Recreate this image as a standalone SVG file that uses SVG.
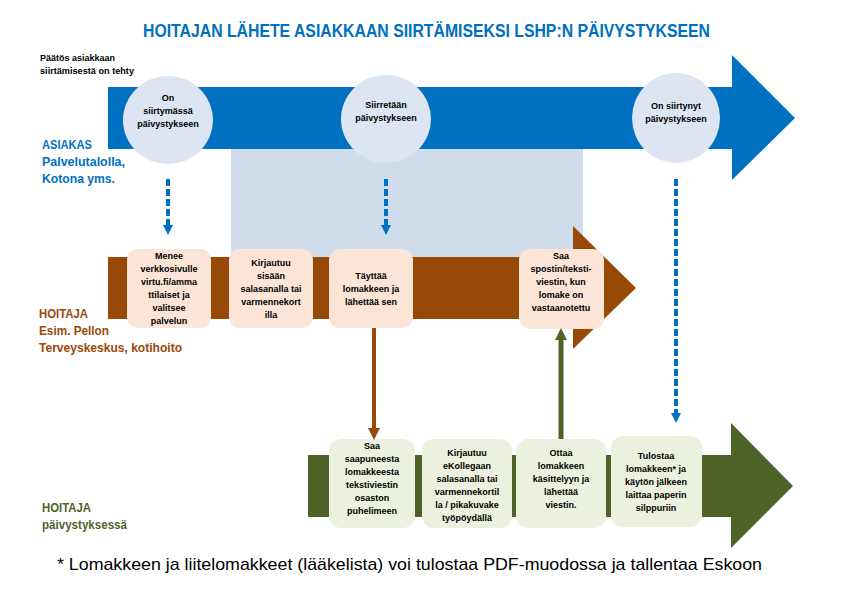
<svg xmlns="http://www.w3.org/2000/svg" width="842" height="595" viewBox="0 0 842 595">
<defs>
<style>
text{font-family:"Liberation Sans",Arial,sans-serif;font-weight:bold;fill:#000}
.bx{font-size:9px;text-anchor:middle}
.lbl{font-size:13px}
.blue{fill:#0070C0}
.brown{fill:#984807}
.green{fill:#4F6228}
.circ{fill:#DCE5F1}
.pb{fill:#FCE4D6}
.gb{fill:#EBF1DE}
.dash{stroke:#0070C0;stroke-width:4;stroke-dasharray:7 3;fill:none}
</style>
<marker id="hb" markerUnits="userSpaceOnUse" markerWidth="12" markerHeight="12" refX="4" refY="5" orient="auto"><path d="M0,0 L10,5 L0,10 z" fill="#0070C0"/></marker>
<marker id="hbr" markerUnits="userSpaceOnUse" markerWidth="14" markerHeight="14" refX="4" refY="6" orient="auto"><path d="M0,0 L12,6 L0,12 z" fill="#984807"/></marker>
<marker id="hg" markerUnits="userSpaceOnUse" markerWidth="14" markerHeight="14" refX="4" refY="6" orient="auto"><path d="M0,0 L12,6 L0,12 z" fill="#4F6228"/></marker>
</defs>
<rect width="842" height="595" fill="#fff"/>
<text x="143" y="37" font-size="19" textLength="567" lengthAdjust="spacingAndGlyphs" class="blue">HOITAJAN LÄHETE ASIAKKAAN SIIRTÄMISEKSI LSHP:N PÄIVYSTYKSEEN</text>
<text x="40" y="61" font-size="9" textLength="75" lengthAdjust="spacingAndGlyphs">Päätös asiakkaan</text>
<text x="40" y="74" font-size="9" textLength="94" lengthAdjust="spacingAndGlyphs">siirtämisestä on tehty</text>

<g id="lanes">
<rect x="231" y="149" width="352" height="110" fill="#CFDCEB"/>
<path class="blue" d="M108,87 H732 V55 L795,118 L732,180 V149 H108 z"/>
<path class="brown" d="M108,257 H573 V226 L636,288 L573,349 V319 H108 z"/>
<path class="green" d="M308,455 H731 V423 L793,486 L731,548 V517 H308 z"/>
</g>

<g id="lbl-asiakas">
<text class="lbl blue" x="42" y="149" textLength="50" lengthAdjust="spacingAndGlyphs">ASIAKAS</text>
<text class="lbl blue" x="42" y="166" textLength="83" lengthAdjust="spacingAndGlyphs">Palvelutalolla,</text>
<text class="lbl blue" x="42" y="183" textLength="73" lengthAdjust="spacingAndGlyphs">Kotona yms.</text>
</g>
<g id="lbl-hoitaja1">
<text class="lbl brown" x="39" y="318" textLength="49" lengthAdjust="spacingAndGlyphs">HOITAJA</text>
<text class="lbl brown" x="39" y="335" textLength="70" lengthAdjust="spacingAndGlyphs">Esim. Pellon</text>
<text class="lbl brown" x="39" y="352" textLength="143" lengthAdjust="spacingAndGlyphs">Terveyskeskus, kotihoito</text>
</g>
<g id="lbl-hoitaja2">
<text class="lbl green" x="42" y="512" textLength="49" lengthAdjust="spacingAndGlyphs">HOITAJA</text>
<text class="lbl green" x="42" y="529" textLength="85" lengthAdjust="spacingAndGlyphs">päivystyksessä</text>
</g>

<g id="c1"><ellipse class="circ" cx="168" cy="120" rx="45" ry="44"/>
<text class="bx" x="168" y="101">On</text><text class="bx" x="168" y="114">siirtymässä</text><text class="bx" x="168" y="127">päivystykseen</text></g>
<g id="c2"><ellipse class="circ" cx="386" cy="119" rx="45" ry="44"/>
<text class="bx" x="386" y="108">Siirretään</text><text class="bx" x="386" y="121">päivystykseen</text></g>
<g id="c3"><ellipse class="circ" cx="676" cy="118" rx="44" ry="45"/>
<text class="bx" x="676" y="109">On siirtynyt</text><text class="bx" x="676" y="122">päivystykseen</text></g>

<g id="b1"><rect class="pb" x="127" y="249" width="84" height="79" rx="11"/>
<text class="bx" x="169" y="259">Menee</text><text class="bx" x="169" y="272">verkkosivulle</text><text class="bx" x="169" y="285">virtu.fi/amma</text><text class="bx" x="169" y="298">ttilaiset ja</text><text class="bx" x="169" y="311">valitsee</text><text class="bx" x="169" y="324">palvelun</text></g>
<g id="b2"><rect class="pb" x="229" y="249" width="84" height="79" rx="11"/>
<text class="bx" x="271" y="266">Kirjautuu</text><text class="bx" x="271" y="279">sisään</text><text class="bx" x="271" y="292">salasanalla tai</text><text class="bx" x="271" y="305">varmennekort</text><text class="bx" x="271" y="318">illa</text></g>
<g id="b3"><rect class="pb" x="329" y="249" width="84" height="79" rx="11"/>
<text class="bx" x="371" y="279">Täyttää</text><text class="bx" x="371" y="292">lomakkeen ja</text><text class="bx" x="371" y="305">lähettää sen</text></g>
<g id="b4"><rect class="pb" x="519" y="249" width="85" height="80" rx="11"/>
<text class="bx" x="561" y="259">Saa</text><text class="bx" x="561" y="272">spostin/teksti-</text><text class="bx" x="561" y="285">viestin, kun</text><text class="bx" x="561" y="298">lomake on</text><text class="bx" x="561" y="311">vastaanotettu</text></g>

<g id="g1"><rect class="gb" x="329" y="439" width="86" height="89" rx="12"/>
<text class="bx" x="372" y="449">Saa</text><text class="bx" x="372" y="462">saapuneesta</text><text class="bx" x="372" y="475">lomakkeesta</text><text class="bx" x="372" y="488">tekstiviestin</text><text class="bx" x="372" y="501">osaston</text><text class="bx" x="372" y="514">puhelimeen</text></g>
<g id="g2"><rect class="gb" x="422" y="439" width="90" height="89" rx="12"/>
<text class="bx" x="467" y="456">Kirjautuu</text><text class="bx" x="467" y="469">eKollegaan</text><text class="bx" x="467" y="482">salasanalla tai</text><text class="bx" x="467" y="495">varmennekortil</text><text class="bx" x="467" y="508">la / pikakuvake</text><text class="bx" x="467" y="521">työpöydällä</text></g>
<g id="g3"><rect class="gb" x="516" y="439" width="90" height="89" rx="12"/>
<text class="bx" x="561" y="456">Ottaa</text><text class="bx" x="561" y="469">lomakkeen</text><text class="bx" x="561" y="482">käsittelyyn ja</text><text class="bx" x="561" y="495">lähettää</text><text class="bx" x="561" y="508">viestin.</text></g>
<g id="g4"><rect class="gb" x="611" y="436" width="91" height="91" rx="12"/>
<text class="bx" x="656" y="459">Tulostaa</text><text class="bx" x="656" y="472">lomakkeen* ja</text><text class="bx" x="656" y="485">käytön jälkeen</text><text class="bx" x="656" y="498">laittaa paperin</text><text class="bx" x="656" y="511">silppuriin</text></g>

<g id="connectors">
<line class="dash" x1="168" y1="179" x2="168" y2="229" marker-end="url(#hb)"/>
<line class="dash" x1="386" y1="179" x2="386" y2="229" marker-end="url(#hb)"/>
<line class="dash" x1="676" y1="179" x2="676" y2="417" marker-end="url(#hb)"/>
<line x1="374" y1="328" x2="374" y2="432" stroke="#984807" stroke-width="4" marker-end="url(#hbr)"/>
<line x1="561" y1="439" x2="561" y2="336" stroke="#4F6228" stroke-width="5" marker-end="url(#hg)"/>
</g>

<text x="57" y="570" font-size="17" style="font-weight:normal" textLength="705" lengthAdjust="spacingAndGlyphs">* Lomakkeen ja liitelomakkeet (lääkelista) voi tulostaa PDF-muodossa ja tallentaa Eskoon</text>
</svg>
